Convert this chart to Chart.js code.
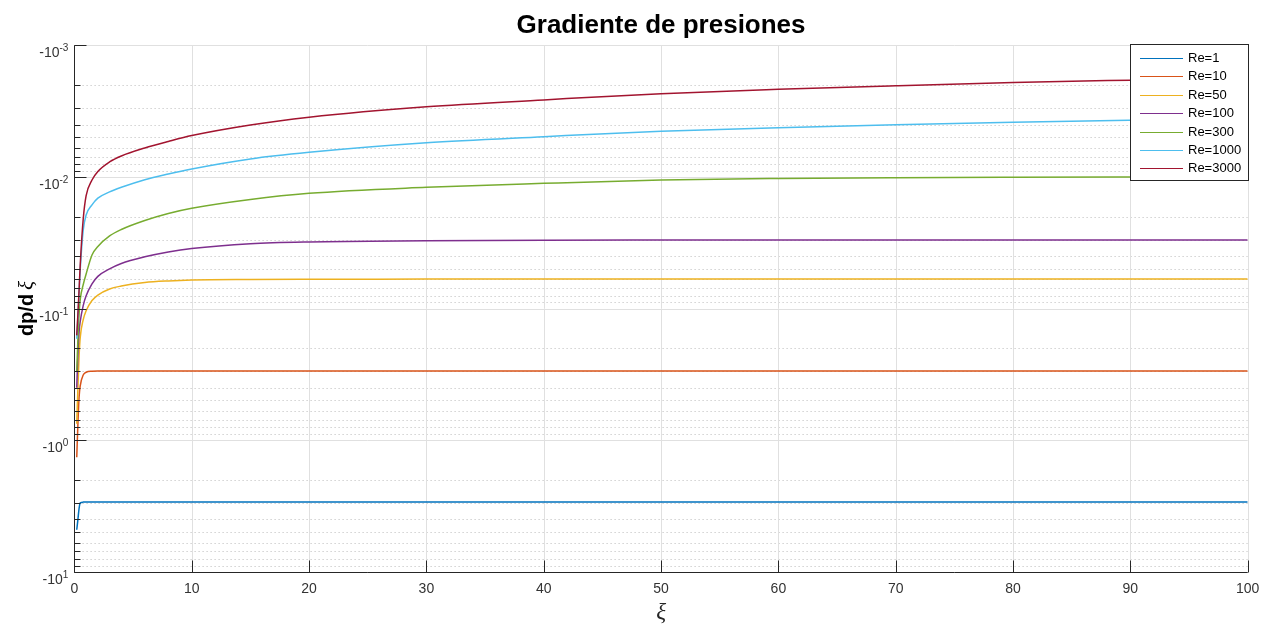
<!DOCTYPE html>
<html>
<head>
<meta charset="utf-8">
<script src="https://cdn.jsdelivr.net/npm/chart.js@4.4.1/dist/chart.umd.min.js"></script>
<style>
  html, body { margin: 0; padding: 0; background: #ffffff; }
  #wrap { width: 1271px; height: 626px; }
</style>
</head>
<body>
<div id="wrap"><canvas id="c" width="1271" height="626"></canvas></div>
<script>
// Axial coordinate samples
const xi = [0.2, 0.3, 0.4, 0.5, 0.75, 1, 1.5, 2, 3, 4, 6, 8, 10, 15, 20, 30, 40, 50, 60, 70, 80, 90, 100];

// Magnitude of the pressure gradient |dp/dξ| for each Reynolds number (plotted as negative)
const re1    = [4.8, 4.0, 3.3, 3.0, 2.96, 2.95, 2.95, 2.95, 2.95, 2.95, 2.95, 2.95, 2.95, 2.95, 2.95, 2.95, 2.95, 2.95, 2.95, 2.95, 2.95, 2.95, 2.95];
const re10   = [1.35, 0.75, 0.47, 0.385, 0.32, 0.305, 0.300, 0.299, 0.299, 0.299, 0.299, 0.299, 0.299, 0.299, 0.299, 0.299, 0.299, 0.299, 0.299, 0.299, 0.299, 0.299, 0.299];
const re50   = [0.75, 0.40, 0.23, 0.165, 0.122, 0.104, 0.087, 0.079, 0.071, 0.0675, 0.0635, 0.0617, 0.0607, 0.0601, 0.0599, 0.0598, 0.0597, 0.0597, 0.0597, 0.0597, 0.0597, 0.0597, 0.0597];
const re100  = [0.40, 0.22, 0.15, 0.125, 0.095, 0.080, 0.065, 0.057, 0.050, 0.0455, 0.0405, 0.0372, 0.0350, 0.0322, 0.0312, 0.0306, 0.0303, 0.0302, 0.0301, 0.0301, 0.0301, 0.0301, 0.0301];
const re300  = [0.30, 0.17, 0.11, 0.085, 0.066, 0.0547, 0.0392, 0.0338, 0.0281, 0.0251, 0.02145, 0.01897, 0.01732, 0.01485, 0.01333, 0.0120, 0.01119, 0.01056, 0.01028, 0.01014, 0.01007, 0.01003, 0.0100];
const re1000 = [0.17, 0.115, 0.075, 0.050, 0.0255, 0.0195, 0.0163, 0.0145, 0.0130, 0.0120, 0.0105, 0.0095, 0.0087, 0.0073, 0.0065, 0.0055, 0.00495, 0.00450, 0.00423, 0.00401, 0.00384, 0.00371, 0.00360];
const re3000 = [0.16, 0.11, 0.072, 0.046, 0.021, 0.0139, 0.01056, 0.0091, 0.0077, 0.00694, 0.00603, 0.00538, 0.00485, 0.00403, 0.00352, 0.00293, 0.00260, 0.00233, 0.00216, 0.00203, 0.00192, 0.00184, 0.00177];

const seriesNames = ['Re=1', 'Re=10', 'Re=50', 'Re=100', 'Re=300', 'Re=1000', 'Re=3000'];
const seriesValues = [re1, re10, re50, re100, re300, re1000, re3000];
const seriesColors = ['#0072BD', '#D95319', '#EDB120', '#7E2F8E', '#77AC30', '#4DBEEE', '#A2142F'];

// Axis ticks
const xTickValues = [0, 10, 20, 30, 40, 50, 60, 70, 80, 90, 100];
const yExponents = [-3, -2, -1, 0, 1];
const yTickBase = '-10';
const yTickExp = ['-3', '-2', '-1', '0', '1'];

const titleText = 'Gradiente de presiones';
const yTitleMain = 'dp/d';
const yTitleSym = '\u03BE';
const xTitleText = '\u03BE';

const yMajor = yExponents.map(k => Math.pow(10, k));
const yMinor = [];
yExponents.slice(0, -1).forEach(k => {
  for (let m = 2; m <= 9; m++) yMinor.push(m * Math.pow(10, k));
});

const AXIS = '#262626';
const TXT = '#333333';
const SANS = '"Liberation Sans", Arial, sans-serif';
const SERIF = '"Liberation Serif", "DejaVu Serif", serif';

function crisp(v) { return Math.round(v) + 0.5; }

const decor = {
  id: 'decor',
  beforeDatasetsDraw(chart) {
    const { ctx, chartArea: a, scales: { x, y } } = chart;
    ctx.save();
    ctx.lineWidth = 1;
    // dotted minor grid
    ctx.strokeStyle = '#d2d2d2';
    ctx.setLineDash([1.5, 2.5]);
    ctx.beginPath();
    yMinor.forEach(v => {
      const p = crisp(y.getPixelForValue(v));
      ctx.moveTo(a.left, p); ctx.lineTo(a.right, p);
    });
    ctx.stroke();
    // solid major grid
    ctx.setLineDash([]);
    ctx.strokeStyle = '#e0e0e0';
    ctx.beginPath();
    yMajor.forEach(v => {
      const p = crisp(y.getPixelForValue(v));
      ctx.moveTo(a.left, p); ctx.lineTo(a.right, p);
    });
    xTickValues.forEach(v => {
      const p = crisp(x.getPixelForValue(v));
      ctx.moveTo(p, a.top); ctx.lineTo(p, a.bottom);
    });
    ctx.stroke();
    ctx.restore();
  },
  afterDatasetsDraw(chart) {
    const { ctx, chartArea: a, scales: { x, y } } = chart;
    ctx.save();
    ctx.lineWidth = 1;
    ctx.strokeStyle = AXIS;
    const L = crisp(a.left), B = crisp(a.bottom);
    ctx.beginPath();
    // axis lines
    ctx.moveTo(L, a.top); ctx.lineTo(L, B);
    ctx.moveTo(L, B); ctx.lineTo(a.right, B);
    // inward tick marks
    yMajor.forEach(v => {
      const p = crisp(y.getPixelForValue(v));
      ctx.moveTo(L, p); ctx.lineTo(L + 12, p);
    });
    yMinor.forEach(v => {
      const p = crisp(y.getPixelForValue(v));
      ctx.moveTo(L, p); ctx.lineTo(L + 6, p);
    });
    xTickValues.forEach(v => {
      const p = crisp(x.getPixelForValue(v));
      ctx.moveTo(p, B); ctx.lineTo(p, B - 12);
    });
    ctx.stroke();

    // y tick labels with raised exponents
    ctx.fillStyle = TXT;
    ctx.textBaseline = 'alphabetic';
    ctx.textAlign = 'left';
    const rightEdge = a.left - 6;
    yMajor.forEach((v, i) => {
      const p = y.getPixelForValue(v);
      ctx.font = '10px ' + SANS;
      const we = ctx.measureText(yTickExp[i]).width;
      ctx.font = '14px ' + SANS;
      const wb = ctx.measureText(yTickBase).width;
      ctx.fillText(yTickBase, rightEdge - we - wb, p + 12);
      ctx.font = '10px ' + SANS;
      ctx.fillText(yTickExp[i], rightEdge - we, p + 6);
    });

    // title
    const cx = (a.left + a.right) / 2;
    ctx.fillStyle = '#000000';
    ctx.font = 'bold 26px ' + SANS;
    ctx.textAlign = 'center';
    ctx.fillText(titleText, cx, 33);

    // x axis title
    ctx.fillStyle = AXIS;
    ctx.font = 'italic 23px ' + SERIF;
    ctx.fillText(xTitleText, cx, 619);

    // y axis title
    const cy = (a.top + a.bottom) / 2;
    ctx.translate(33, cy);
    ctx.rotate(-Math.PI / 2);
    const f1 = 'bold 20px ' + SANS;
    const f2 = 'italic 21px ' + SERIF;
    ctx.font = f1; const w1 = ctx.measureText(yTitleMain).width;
    ctx.font = f2; const w2 = ctx.measureText(yTitleSym).width;
    const gap = 4;
    const start = -(w1 + gap + w2) / 2;
    ctx.textAlign = 'left';
    ctx.fillStyle = '#000000';
    ctx.font = f1; ctx.fillText(yTitleMain, start, 0);
    ctx.font = f2; ctx.fillText(yTitleSym, start + w1 + gap, 0);
    ctx.restore();

    // legend box
    ctx.save();
    const bx = 1130.5, by = 44.5, bw = 118, bh = 136;
    ctx.fillStyle = '#ffffff';
    ctx.fillRect(bx, by, bw, bh);
    ctx.strokeStyle = AXIS;
    ctx.lineWidth = 1;
    ctx.strokeRect(bx, by, bw, bh);
    ctx.font = '13px ' + SANS;
    ctx.textAlign = 'left';
    ctx.textBaseline = 'middle';
    chart.data.datasets.forEach((ds, i) => {
      const ry = 57.7 + i * 18.45;
      ctx.strokeStyle = ds.borderColor;
      ctx.lineWidth = 1.2;
      ctx.beginPath();
      ctx.moveTo(1140, Math.round(ry) + 0.5);
      ctx.lineTo(1183, Math.round(ry) + 0.5);
      ctx.stroke();
      ctx.fillStyle = '#000000';
      ctx.fillText(ds.label, 1188, ry + 0.5);
    });
    ctx.restore();
  }
};

const datasets = seriesNames.map((name, i) => ({
  label: name,
  data: xi.map((v, j) => ({ x: v, y: seriesValues[i][j] })),
  borderColor: seriesColors[i],
  backgroundColor: seriesColors[i],
  borderWidth: 1.5,
  pointRadius: 0,
  fill: false,
  cubicInterpolationMode: 'monotone',
  order: seriesNames.length - i
}));

new Chart(document.getElementById('c'), {
  type: 'line',
  data: { datasets },
  options: {
    responsive: false,
    animation: false,
    devicePixelRatio: 1,
    layout: { padding: { left: 0, right: 23.3, top: 45.3, bottom: 0 } },
    plugins: {
      legend: { display: false },
      title: { display: false },
      tooltip: { enabled: false }
    },
    scales: {
      x: {
        type: 'linear',
        min: 0,
        max: 100,
        grid: { display: false, drawTicks: false },
        border: { display: false },
        afterBuildTicks: s => { s.ticks = xTickValues.map(v => ({ value: v })); },
        ticks: {
          autoSkip: false,
          maxRotation: 0,
          padding: 9,
          color: TXT,
          font: { family: SANS, size: 14 }
        },
        afterFit: s => { s.height = 54.3; }
      },
      y: {
        type: 'logarithmic',
        reverse: true,
        min: 0.001,
        max: 10,
        grid: { display: false, drawTicks: false },
        border: { display: false },
        ticks: { display: false },
        afterFit: s => { s.width = 74.4; }
      }
    }
  },
  plugins: [decor]
});
</script>
</body>
</html>
